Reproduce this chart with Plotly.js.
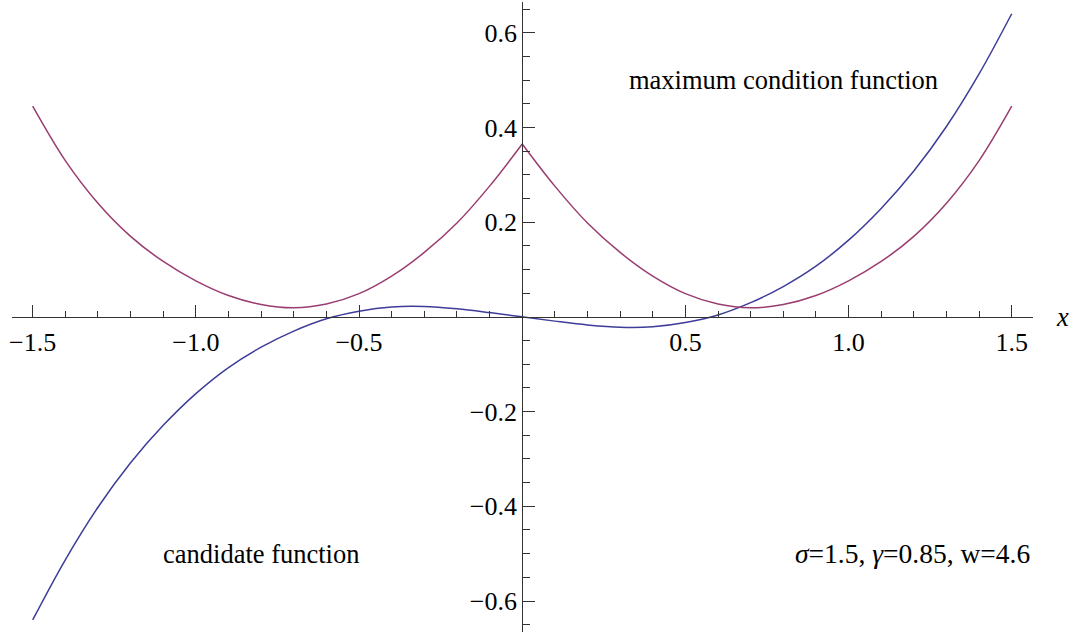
<!DOCTYPE html>
<html>
<head>
<meta charset="utf-8">
<script src="https://cdn.plot.ly/plotly-3.0.1.min.js"></script>
<style>html,body{margin:0;padding:0;background:#fff;}#chart{width:1073px;height:633px;}</style>
</head>
<body>
<div id="chart"></div>
<script>
// x sample points
const xValues = [-1.5,-1.4,-1.3,-1.2,-1.1,-1.0,-0.9,-0.8,-0.7,-0.6,-0.5,-0.4,-0.3,-0.2,-0.1,0,
                 0.1,0.2,0.3,0.4,0.5,0.6,0.7,0.8,0.9,1.0,1.1,1.2,1.3,1.4,1.5];
// candidate function (blue)
const candidate = [-0.640,-0.513,-0.402,-0.308,-0.229,-0.162,-0.107,-0.064,-0.030,-0.004,0.012,0.021,0.022,0.017,0.009,0,
                   -0.009,-0.017,-0.022,-0.021,-0.012,0.004,0.030,0.064,0.107,0.162,0.229,0.308,0.402,0.513,0.640];
// maximum condition function (purple)
const maxCondition = [0.445,0.330,0.240,0.170,0.117,0.076,0.045,0.026,0.019,0.027,0.049,0.086,0.136,0.198,0.276,0.365,
                      0.276,0.198,0.136,0.086,0.049,0.027,0.019,0.026,0.045,0.076,0.117,0.170,0.240,0.330,0.445];

const xTickVals = [-1.5,-1.0,-0.5,0.5,1.0,1.5];
const xTickText = ["\u22121.5","\u22121.0","\u22120.5","0.5","1.0","1.5"];
const yTickVals = [-0.6,-0.4,-0.2,0.2,0.4,0.6];
const yTickText = ["\u22120.6","\u22120.4","\u22120.2","0.2","0.4","0.6"];

const labels = {
  maxCond: "maximum condition function",
  cand: "candidate function",
  params: "<i>\u03c3</i>=1.5, <i>\u03b3</i>=0.85, w=4.6",
  xName: "<i>x</i>"
};

// minor tick positions (excluding major ones)
function minorList(step, lo, hi, majors) {
  const out = [];
  const n0 = Math.ceil(lo / step - 1e-9), n1 = Math.floor(hi / step + 1e-9);
  for (let n = n0; n <= n1; n++) {
    const v = +(n * step).toFixed(4);
    if (Math.abs(v) < 1e-9) continue;
    if (majors.some(m => Math.abs(m - v) < 1e-9)) continue;
    out.push(v);
  }
  return out;
}

const xRange = [-1.5634, 1.5652];
const yRange = [-0.6654, 0.6648];

const FONT = "Liberation Serif, Times New Roman, serif";
const BLUE = "#3d3d99";
const PURPLE = "#993d71";
const AXC = "#333333";

const iZero = xValues.indexOf(0);
const traces = [
  {x: xValues, y: candidate, mode: "lines", line: {color: BLUE, width: 1.5, shape: "spline", smoothing: 1}, hoverinfo: "skip"},
  {x: xValues.slice(0, iZero + 1), y: maxCondition.slice(0, iZero + 1), mode: "lines", line: {color: PURPLE, width: 1.5, shape: "spline", smoothing: 1}, hoverinfo: "skip"},
  {x: xValues.slice(iZero), y: maxCondition.slice(iZero), mode: "lines", line: {color: PURPLE, width: 1.5, shape: "spline", smoothing: 1}, hoverinfo: "skip"}
];

const layout = {
  width: 1073, height: 633,
  margin: {l: 12, r: 40, t: 2, b: 1, pad: 0},
  paper_bgcolor: "#fff", plot_bgcolor: "#fff",
  showlegend: false,
  xaxis: {
    range: xRange, anchor: "free", position: 0.5002,
    showgrid: false, zeroline: false, showline: true, linecolor: AXC, linewidth: 1,
    tickmode: "array", tickvals: xTickVals, ticktext: xTickText,
    ticks: "inside", ticklen: 12, tickwidth: 1, tickcolor: AXC,
    ticklabelstandoff: 2,
    tickfont: {family: FONT, size: 26, color: "#000"},
    minor: {tickmode: "array", tickvals: minorList(0.1, -1.55, 1.55, xTickVals.concat([0])), ticks: "inside", ticklen: 6, tickwidth: 1, tickcolor: AXC},
    fixedrange: true
  },
  yaxis: {
    range: yRange, anchor: "free", position: 0.4997,
    showgrid: false, zeroline: false, showline: true, linecolor: AXC, linewidth: 1,
    tickmode: "array", tickvals: yTickVals, ticktext: yTickText,
    ticks: "inside", ticklen: 12, tickwidth: 1, tickcolor: AXC,
    tickfont: {family: FONT, size: 26, color: "#000"},
    minor: {tickmode: "array", tickvals: minorList(0.05, -0.66, 0.66, yTickVals.concat([0])), ticks: "inside", ticklen: 7, tickwidth: 1, tickcolor: AXC},
    fixedrange: true
  },
  annotations: [
    {x: 0.8, y: 0.5, xref: "x", yref: "y", text: labels.maxCond, showarrow: false, font: {family: FONT, size: 26.5, color: "#000"}},
    {x: -0.8, y: -0.5, xref: "x", yref: "y", text: labels.cand, showarrow: false, font: {family: FONT, size: 26.5, color: "#000"}},
    {x: 1.196, y: -0.5, xref: "x", yref: "y", text: labels.params, showarrow: false, font: {family: FONT, size: 27.5, color: "#000"}},
    {x: 1.029, y: 0.5, xref: "paper", yref: "paper", text: labels.xName, showarrow: false, xanchor: "center", font: {family: FONT, size: 26.5, color: "#000"}}
  ]
};

Plotly.newPlot("chart", traces, layout, {displayModeBar: false, staticPlot: true});
</script>
</body>
</html>
